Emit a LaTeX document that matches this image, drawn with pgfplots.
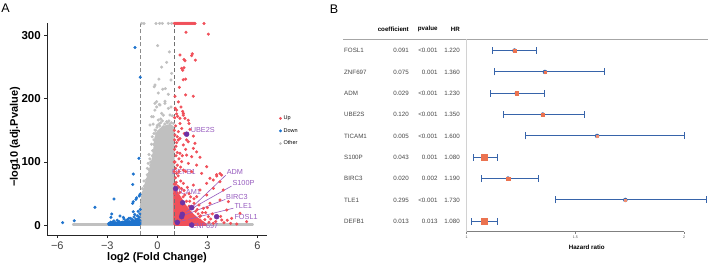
\documentclass[border=0pt]{standalone}
\usepackage{fontspec}
\setmainfont{Liberation Sans}
\usepackage{pgfplots}
\pgfplotsset{compat=1.18}
\definecolor{upred}{RGB}{240,80,90}
\definecolor{downblue}{RGB}{30,115,205}
\definecolor{othergray}{RGB}{192,192,192}
\definecolor{hlpurple}{RGB}{110,50,165}
\definecolor{lblpurple}{RGB}{150,90,190}
\definecolor{vlinegray}{RGB}{140,140,140}
\definecolor{ciblue}{RGB}{55,100,170}
\definecolor{hrorange}{RGB}{235,115,80}
\definecolor{tabtext}{RGB}{70,70,70}
\begin{document}
\begin{tikzpicture}[x=1pt,y=1pt]
\useasboundingbox (0,0) rectangle (708,265);
% panel letters
\node[font=\fontsize{12.5}{13}\selectfont] at (5.5,257) {A};
\node[font=\fontsize{12.5}{13}\selectfont] at (334,256) {B};

%================ volcano ================
\begin{axis}[
  at={(47.3pt,30pt)}, anchor=south west, scale only axis,
  width=219.7pt, height=212.2pt,
  xmin=-6.6, xmax=6.58, ymin=-15.3, ymax=320,
  axis lines=left, axis line style={-, line width=0.8pt, black!85},
  tick align=outside, major tick length=3pt,
  tick style={line width=0.8pt, black!85},
  xtick={-6,-3,0,3,6}, xticklabels={−6,−3,0,3,6},
  ytick={0,100,200,300},
  /pgf/number format/assume math mode=true,
  xticklabel style={font=\fontsize{11}{11}\selectfont, text=black!75},
  yticklabel style={font=\bfseries\fontsize{11.5}{12}\selectfont},
  clip=false,
  legend style={draw=none, fill=none, at={(1.055,0.49)}, anchor=west,
    font=\fontsize{5.5}{6}\selectfont, row sep=3.2pt, inner sep=0pt},
  legend cell align=left,
  legend image code/.code={\draw[mark repeat=2, mark phase=2, #1] plot coordinates {(0pt,0pt)(4pt,0pt)(8pt,0pt)};},
]
% ---- Other (grey) ----
\addplot[forget plot, othergray, fill=othergray, line width=2.6pt, line join=round]
 coordinates {(-0.96,1.5)(0.96,1.5)(0.96,150)(0.9,156)(0.6,157)(0.3,154)(0.05,148)(-0.1,138)(-0.15,124)(-0.25,106)(-0.45,85)(-0.7,64)(-0.9,46)(-0.96,32)} -- cycle;
\addplot[forget plot, othergray, line width=2.6pt, line cap=round]
 coordinates {(-5.05,1.5)(-2.95,1.5)};
\addplot[forget plot, othergray, line width=2.6pt, line cap=round]
 coordinates {(2.0,1.5)(5.72,1.5)};
\addplot[forget plot, othergray, only marks, mark=*, mark size=1.35pt]
 coordinates {
 (-0.94,319)(-0.8,319)(-0.08,319)(0.14,319)(0.3,319)(0.66,319)(0.86,319)
 (0.02,284)(0.72,274)(0.56,257.5)(0.26,250)(0.86,240)(0.1,231)(0.82,229.5)
 (-0.14,221.6)(-0.18,219)(0.32,215)(0.48,216)(0.66,207)(0.06,209)
 (-0.14,192.7)(-0.04,187)(0.12,191)(0.46,196)(0.82,187)(-0.24,171.5)(0.36,174)(0.9,173)
 (-0.04,195.3)(0.16,190)(0.46,192.7)(0.66,184.8)(-0.14,182)(0.26,176.9)(0.76,174.3)
 (-0.34,171.6)(0.06,166.4)(0.56,163.7)(0.96,161)(-0.44,158.5)(0.36,155.8)(-0.14,150.5)(0.66,148)
 (-0.3,140)(-0.35,128)(-0.2,145)(-0.5,112)(-0.4,100)(-0.6,90)(-0.55,78)(-0.8,70)(-0.75,55)
 (-0.9,58)(-0.95,48)(-0.85,40)(-0.98,30)(0.1,160)(0.3,165)(0.8,155)(0.95,150)(0.0,158)(0.5,152)
 (-0.25,160)(0.2,168)(0.7,165)(-0.98,20)(-0.98,10)
 (-0.1,150)(0.2,162)(0.45,160)(0.75,160)(-0.2,135)(-0.28,118)(-0.4,95)(-0.5,88)(-0.65,72)
 (-0.7,60)(-0.85,52)(-0.92,38)(-0.3,110)(-0.6,80)(-0.02,155)(0.85,162)(-0.45,105)(-0.55,98)
 (-0.35,92)(-0.22,128)(-0.08,145)(0.15,157)(0.6,162)(-0.78,62)(-0.62,68)
 };
% ---- Down (blue) ----
\addplot[forget plot, downblue, fill=downblue, line width=2.6pt, line join=round]
 coordinates {(-2.92,1)(-1.04,1)(-1.04,12)(-1.3,7)(-1.8,5)(-2.4,4)(-2.92,3)} -- cycle;
\addplot[forget plot, downblue, only marks, mark=*, mark size=1.35pt]
 coordinates {
 (-5.68,4.1)(-4.98,7.3)(-3.74,28.4)(-2.6,41.5)(-1.48,64.5)(-1.44,81)(-1.1,105.8)(-1.34,281)(-1.02,234)
 (-1.08,46.3)(-1.04,49)(-1.28,41)(-1.24,43.5)(-1.48,34.7)(-1.44,37.3)(-2.74,17.9)(-2.78,12.6)
 (-2.24,14.7)(-2.04,12.6)(-1.44,21.5)
 (-2.9,3)(-2.8,5)(-2.7,5)(-2.5,4)(-2.3,6)(-2.1,5)(-1.9,7)(-1.7,6)(-1.5,9)(-1.3,10)(-1.1,13)
 (-1.05,18)(-1.2,15)(-1.6,11)(-1.8,9)(-2.4,8)(-1.4,13)(-1.02,25)(-1.15,22)(-2.0,10)(-1.25,6)
 (-1.05,8)(-2.6,7)(-1.7,11)(-1.35,17)
 };
% ---- Up (red) ----
\addplot[forget plot, upred, fill=upred, line width=2.6pt, line join=round]
 coordinates {(1.04,1)(2.9,1)(2.7,5)(2.4,10)(2.1,17)(1.8,26)(1.6,33)(1.4,42)(1.2,50)(1.04,58)} -- cycle;
\addplot[forget plot, upred, only marks, mark=*, mark size=1.35pt]
 coordinates {
 (1.02,319)(1.08,319)(1.14,319)(1.2,319)(1.26,319)(1.32,319)(1.38,319)(1.44,319)(1.5,319)(1.56,319)
 (1.62,319)(1.68,319)(1.74,319)(1.8,319)(1.86,319)(1.92,319)(1.98,319)(2.04,319)(2.1,319)(2.16,319)
 (2.22,319)(2.26,319)(2.8,319)
 (1.72,305)(3.06,302)(1.36,269)(2.10,271)(2.06,268)(1.6,262)(1.66,260)(2.28,261)(1.46,248)(1.6,249)
 (1.52,245)(1.56,230)(1.7,231)(1.32,218)(1.06,204)(1.7,206)(2.16,204)(1.16,176)(1.52,180)(1.56,174)
 (1.36,169)(1.9,161)
 (1.26,195)(1.42,187)(1.16,182)(1.56,177)(1.22,172)(1.66,169)(1.86,166)(1.36,161)(1.10,157)
 (1.46,153)(1.96,151.6)(1.26,148)(1.62,145)(1.06,142.6)(2.16,141)(1.36,137)(1.76,135)(1.16,130.6)(2.26,129.5)
 (1.26,134.8)(1.56,127)(1.86,132)(2.16,121.6)(2.36,116)(1.36,113.7)(1.76,111)(2.06,108.4)(2.56,107.4)
 (1.46,100.5)(1.86,97.8)(2.36,95.2)(2.96,92.6)(1.56,87.3)(2.06,84.7)(2.66,82)(3.16,74.2)(3.36,71.6)
 (3.56,77.9)(3.86,79.4)(3.76,69)(2.96,66.3)(2.16,63.6)(1.56,66.3)(2.56,55.8)(3.36,58.4)(3.96,55.8)
 (2.96,47.9)(2.36,45.2)(3.76,40)(4.26,37.4)(3.16,34.7)(2.76,26.8)(4.16,24.2)(4.96,18.9)(4.46,11)
 (3.86,8.4)(3.06,13.7)(5.36,5.8)(4.76,2.1)(3.36,3.2)(2.56,8.4)(3.56,80)(3.76,82)
 (1.04,120)(1.06,100)(1.02,85)(1.08,75)(1.04,50)(1.12,110)(1.1,90)(1.2,95)(1.25,78)(1.3,60)(1.18,45)
 (1.4,70)(1.7,85)(1.8,60)(2.0,45)(1.9,30)(2.2,35)(2.4,25)(1.7,20)(2.6,15)(2.9,20)(3.2,10)(3.5,6)
 (4.0,4)(4.4,3)(2.2,5)(1.5,5)(1.8,8)(1.04,170)(1.08,185)(1.02,150)(1.04,135)(1.12,125)(1.2,115)
 (1.3,105)(1.02,65)(1.14,68)(1.6,55)(1.9,50)(2.2,42)(2.5,32)(2.7,20)(3.0,28)(3.3,18)(3.8,14)(4.2,8)
 (1.3,85)(1.5,110)(1.7,120)(1.2,140)
 (1.1,65)(1.35,52)(1.55,45)(1.75,38)(2.05,30)(2.3,22)(2.55,14)(2.85,9)(3.1,5)(1.22,62)(1.45,58)
 (1.65,48)(1.95,38)(2.15,28)(2.45,18)(1.02,100)(1.16,82)(1.4,92)
 };
% ---- highlighted genes ----
\addplot[forget plot, hlpurple, only marks, mark=*, mark size=2.5pt]
 coordinates {(1.76,144)(1.1,58)(1.52,35.7)(2.06,27.8)(1.50,17.4)(1.46,13.6)(1.2,4.7)(3.56,13.6)(2.06,0.5)};
% dashed thresholds
\addplot[forget plot, vlinegray, line width=0.8pt, dash pattern=on 4pt off 2.5pt] coordinates {(-1,-15.3)(-1,320)};
\addplot[forget plot, vlinegray!80!black, line width=0.8pt, dash pattern=on 4pt off 2.5pt] coordinates {(1,-15.3)(1,320)};
% label segments
\draw[lblpurple, line width=0.6pt] (axis cs:4.1,79) -- (axis cs:2.12,29.5);
\draw[lblpurple, line width=0.6pt] (axis cs:4.45,62) -- (axis cs:1.56,19);
\draw[lblpurple, line width=0.6pt] (axis cs:4.08,41) -- (axis cs:1.52,15);
\draw[lblpurple, line width=0.6pt] (axis cs:4.56,27) -- (axis cs:1.26,5.5);
% labels
\begin{scope}[every node/.style={anchor=west, inner sep=0pt, text=lblpurple, font=\fontsize{7.3}{8}\selectfont}]
\node at (axis cs:2.0,150.5) {UBE2S};
\node at (axis cs:0.88,84.7) {DEFB1};
\node at (axis cs:1.0,53) {TICAM1};
\node at (axis cs:4.16,83.7) {ADM};
\node at (axis cs:4.5,66.4) {S100P};
\node at (axis cs:4.12,44.2) {BIRC3};
\node at (axis cs:4.62,30.5) {TLE1};
\node at (axis cs:4.62,13.6) {FOSL1};
\node at (axis cs:2.06,-1) {ZNF697};
\end{scope}
% legend
\addlegendimage{upred, only marks, mark=*, mark size=1.2pt}
\addlegendentry{Up}
\addlegendimage{downblue, only marks, mark=*, mark size=1.2pt}
\addlegendentry{Down}
\addlegendimage{othergray, only marks, mark=*, mark size=1.2pt}
\addlegendentry{Other}
\end{axis}
\node[font=\bfseries\fontsize{11}{11}\selectfont] at (157,7) {log2 (Fold Change)};
\node[font=\bfseries\fontsize{11}{11}\selectfont, rotate=90] at (15,128) {−log10 (adj.Pvalue)};

%================ forest ================
% header
\begin{scope}[every node/.style={font=\bfseries\fontsize{6.2}{7}\selectfont, anchor=east, inner sep=0pt}]
\node at (409,235.7) {coefficient};
\node at (437.7,235.7) {pvalue};
\node at (460,235.7) {HR};
\end{scope}
\draw[gray!70, line width=0.6pt] (343,225.7) -- (708,225.7);
\begin{scope}[every node/.style={font=\fontsize{6.2}{7}\selectfont, text=tabtext, inner sep=0pt}]
\node[anchor=west] at (344,214.3) {FOSL1};   \node[anchor=east] at (409,214.3) {0.091}; \node[anchor=east] at (437.7,214.3) {<0.001}; \node[anchor=east] at (460,214.3) {1.220};
\node[anchor=west] at (344,193.0) {ZNF697};  \node[anchor=east] at (409,193.0) {0.075}; \node[anchor=east] at (437.7,193.0) {0.001};  \node[anchor=east] at (460,193.0) {1.360};
\node[anchor=west] at (344,171.7) {ADM};     \node[anchor=east] at (409,171.7) {0.029}; \node[anchor=east] at (437.7,171.7) {<0.001}; \node[anchor=east] at (460,171.7) {1.230};
\node[anchor=west] at (344,150.3) {UBE2S};   \node[anchor=east] at (409,150.3) {0.120}; \node[anchor=east] at (437.7,150.3) {<0.001}; \node[anchor=east] at (460,150.3) {1.350};
\node[anchor=west] at (344,129.0) {TICAM1};  \node[anchor=east] at (409,129.0) {0.005}; \node[anchor=east] at (437.7,129.0) {<0.001}; \node[anchor=east] at (460,129.0) {1.600};
\node[anchor=west] at (344,107.7) {S100P};   \node[anchor=east] at (409,107.7) {0.043}; \node[anchor=east] at (437.7,107.7) {0.001};  \node[anchor=east] at (460,107.7) {1.080};
\node[anchor=west] at (344,86.3) {BIRC3};    \node[anchor=east] at (409,86.3) {0.020};  \node[anchor=east] at (437.7,86.3) {0.002};   \node[anchor=east] at (460,86.3) {1.190};
\node[anchor=west] at (344,65.0) {TLE1};     \node[anchor=east] at (409,65.0) {0.295};  \node[anchor=east] at (437.7,65.0) {<0.001};  \node[anchor=east] at (460,65.0) {1.730};
\node[anchor=west] at (344,43.7) {DEFB1};    \node[anchor=east] at (409,43.7) {0.013};  \node[anchor=east] at (437.7,43.7) {0.013};   \node[anchor=east] at (460,43.7) {1.080};
\end{scope}

\begin{axis}[
  at={(466.7pt,33.3pt)}, anchor=south west, scale only axis,
  width=241.2pt, height=192.4pt,
  xmin=1, xmax=2.11, ymin=0.512, ymax=9.53,
  axis x line=bottom, axis y line=none,
  axis line style={draw=none},
  xtick={1,1.5,2}, xticklabels={1,1.5,2},
  tick align=outside, major tick length=2pt, tick style={gray, line width=0.5pt},
  xticklabel style={font=\fontsize{3.6}{4}\selectfont, text=black!70, yshift=1pt},
  /pgf/number format/assume math mode=true,
  clip=false,
]
\addplot[gray!35, line width=0.6pt] coordinates {(1,0.512)(1,9.53)};
\addplot[gray, line width=0.6pt] coordinates {(1,0.512)(2,0.512)};
\addplot[ciblue, only marks, mark=none,
  error bars/.cd, x dir=both, x explicit,
  error bar style={line width=1.0pt, ciblue},
  error mark options={rotate=90, mark size=3.5pt, line width=1.0pt, ciblue}]
 coordinates {
 (1.22,9) += (0.10,0) -= (0.10,0)
 (1.36,8) += (0.272,0) -= (0.23,0)
 (1.23,7) += (0.13,0) -= (0.12,0)
 (1.35,6) += (0.19,0) -= (0.18,0)
 (1.60,5) += (0.40,0) -= (0.33,0)
 (1.08,4) += (0.06,0) -= (0.05,0)
 (1.19,3) += (0.14,0) -= (0.12,0)
 (1.73,2) += (0.374,0) -= (0.32,0)
 (1.08,1) += (0.06,0) -= (0.06,0)
 };
\addplot[hrorange, only marks, mark=square*, mark size=2.7pt]
 coordinates {(1.08,4)(1.08,1)};
\addplot[hrorange, only marks, mark=square*, mark size=1.8pt]
 coordinates {(1.22,9)(1.23,7)(1.19,3)};
\addplot[hrorange, only marks, mark=square*, mark size=1.2pt]
 coordinates {(1.36,8)(1.35,6)};
\addplot[hrorange!80!white, only marks, mark=square*, mark size=0.8pt]
 coordinates {(1.60,5)(1.73,2)};
\end{axis}
\node[font=\bfseries\fontsize{6.2}{7}\selectfont] at (586.7,17.7) {Hazard ratio};
\end{tikzpicture}
\end{document}
